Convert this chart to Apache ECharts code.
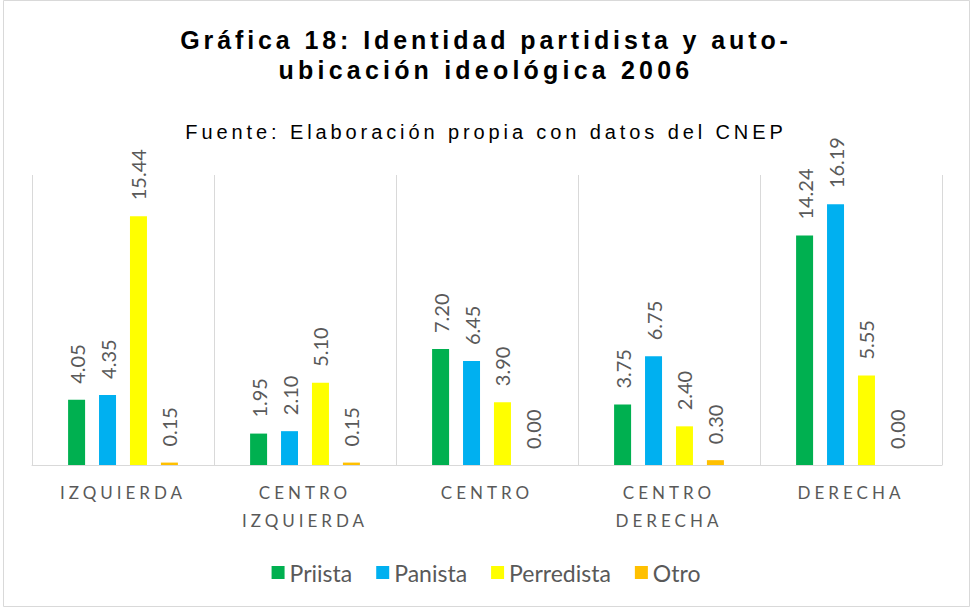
<!DOCTYPE html>
<html>
<head>
<meta charset="utf-8">
<script src="https://cdn.jsdelivr.net/npm/echarts@6/dist/echarts.min.js"></script>
<style>
  html, body { margin: 0; padding: 0; background: #fff; }
  #main { width: 972px; height: 609px; }
</style>
</head>
<body>
<div id="main"></div>
<script>
// categorias y datos (porcentajes)
var categorias = ['IZQUIERDA', 'CENTRO\nIZQUIERDA', 'CENTRO', 'CENTRO\nDERECHA', 'DERECHA'];
var priista    = [4.05, 1.95, 7.20, 3.75, 14.24];
var panista    = [4.35, 2.10, 6.45, 6.75, 16.19];
var perredista = [15.44, 5.10, 3.90, 2.40, 5.55];
var otro       = [0.15, 0.15, 0.00, 0.30, 0.00];

var colores = ['#00B050', '#00B0F0', '#FFFF00', '#FFC000'];
var grisTexto = '#595959';

// lineas que llevan espaciado entre letras
var espaciado = {
  'Gráfica 18: Identidad partidista y auto-': '3.9px',
  'ubicación ideológica 2006': '4.2px',
  'Fuente: Elaboración propia con datos del CNEP': '3.9px',
  'IZQUIERDA': '4px',
  'CENTRO': '4px',
  'DERECHA': '4px'
};

var etiqueta = {
  show: true,
  position: 'top',
  rotate: 90,
  align: 'left',
  verticalAlign: 'middle',
  distance: 16,
  color: grisTexto,
  fontFamily: 'Lato',
  fontSize: 20,
  formatter: function (p) { return p.value.toFixed(2); }
};

var serie = function (nombre, datos) {
  return {
    name: nombre,
    type: 'bar',
    data: datos,
    barWidth: 17,
    barGap: '82%',
    label: etiqueta
  };
};

var chart = echarts.init(document.getElementById('main'), null, { renderer: 'svg' });
var option = {
  color: colores,
  animation: false,
  graphic: [{
    type: 'rect',
    shape: { x: 3.5, y: 0.5, width: 966, height: 606 },
    style: { fill: 'none', stroke: '#d9d9d9', lineWidth: 1 },
    silent: true
  }],
  title: [{
    text: 'Gráfica 18: Identidad partidista y auto-\nubicación ideológica 2006',
    left: 'center',
    top: 20,
    textStyle: {
      fontFamily: 'Liberation Sans',
      fontWeight: 'bold',
      fontSize: 25,
      lineHeight: 30,
      color: '#000'
    }
  }, {
    text: 'Fuente: Elaboración propia con datos del CNEP',
    left: 'center',
    top: 117,
    textStyle: {
      fontFamily: 'Liberation Sans',
      fontWeight: 'normal',
      fontSize: 20,
      color: '#000'
    }
  }],
  legend: {
    top: 556,
    left: 'center',
    icon: 'rect',
    itemWidth: 13,
    itemHeight: 13,
    itemGap: 24,
    textStyle: { color: grisTexto, fontFamily: 'Lato', fontSize: 23 },
    data: ['Priista', 'Panista', 'Perredista', 'Otro']
  },
  grid: { left: 32, right: 30, top: 175, bottom: 144 },
  xAxis: {
    type: 'category',
    data: categorias,
    axisLine: { lineStyle: { color: '#d9d9d9', width: 1 } },
    axisTick: { show: false },
    splitLine: { show: true, lineStyle: { color: '#d9d9d9', width: 1 } },
    axisLabel: {
      color: grisTexto,
      fontFamily: 'Lato',
      fontSize: 17,
      lineHeight: 28,
      margin: 13,
      interval: 0
    }
  },
  yAxis: {
    type: 'value',
    min: 0,
    max: 18,
    show: false,
    splitLine: { show: false }
  },
  series: [
    serie('Priista', priista),
    serie('Panista', panista),
    serie('Perredista', perredista),
    serie('Otro', otro)
  ]
};

var aplicarEspaciado = function () {
  var textos = document.querySelectorAll('#main text');
  for (var i = 0; i < textos.length; i++) {
    var t = textos[i].textContent;
    if (espaciado[t]) {
      textos[i].style.letterSpacing = espaciado[t];
    }
  }
};

chart.on('finished', aplicarEspaciado);
chart.setOption(option);
aplicarEspaciado();
</script>
</body>
</html>
